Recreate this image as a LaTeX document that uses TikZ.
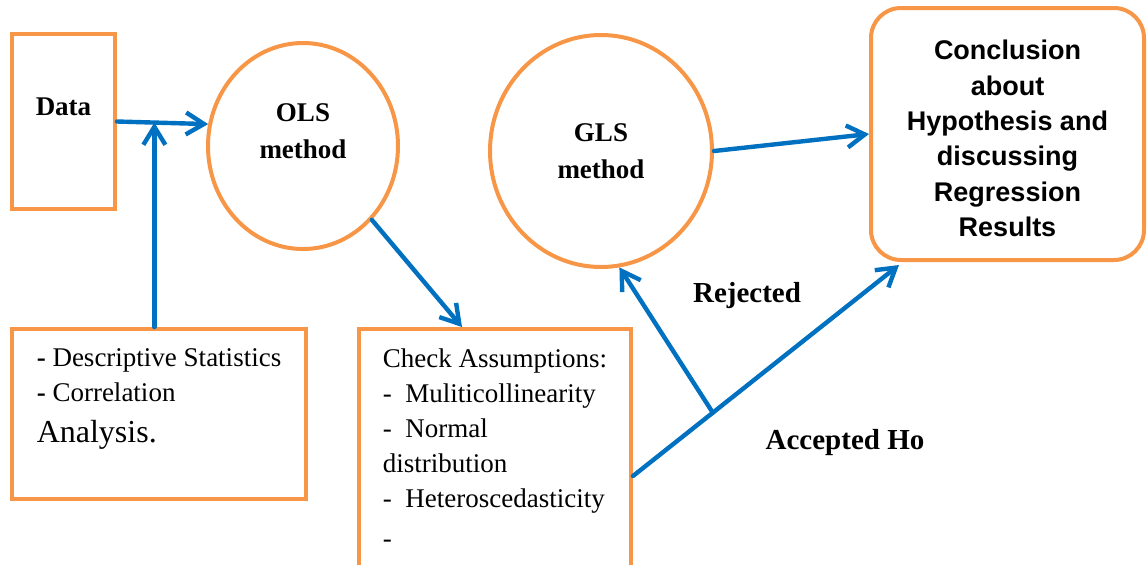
\documentclass[tikz,border=0pt]{standalone}
\usepackage{fontspec}
\setmainfont{Liberation Serif}
\newfontfamily\arialfont{Liberation Sans}
\usepackage{xcolor}
\usetikzlibrary{arrows.meta,calc,positioning,shapes.geometric}
\definecolor{boxorange}{HTML}{F79646}
\definecolor{flowblue}{HTML}{0070C0}

\begin{document}
\begin{tikzpicture}[
    x=0.5pt, y=-0.5pt,
    font=\fontsize{13.5}{17.5}\selectfont,
    framebox/.style={draw=boxorange, line width=2pt, align=left},
    method/.style={ellipse, draw=boxorange, line width=2pt, align=center, inner sep=0pt, font=\fontsize{13.5}{18.5}\selectfont\bfseries},
    result/.style={draw=boxorange, line width=2pt, rounded corners=15pt, align=center, minimum width=136.5pt, minimum height=126pt, font=\arialfont\bfseries\fontsize{13.5}{17.7}\selectfont},
    flow/.style={-{Straight Barb[length=9pt,width=11pt]}, draw=flowblue, line width=2.2pt, line cap=round},
    tag/.style={font=\fontsize{14.5}{17}\selectfont\bfseries}
]
    \clip (0,0) rectangle (1148,564);
    % boxes and methods
    \node[framebox, minimum width=51.5pt, minimum height=87.5pt, inner sep=0pt, text depth=15pt, font=\fontsize{13.5}{17.5}\selectfont\bfseries] (data) at (63.5,121.5) {Data};
    \node[method, minimum width=95pt, minimum height=103pt, text depth=14.5pt] (ols) at (303,146) {OLS\\method};
    \node[method, minimum width=111pt, minimum height=116pt] (gls) at (601,151) {GLS\\method};
    \node[result] (concl) at (1007.5,134) {\rule{0pt}{14.3pt}Conclusion\\about\\Hypothesis and\\discussing\\Regression\\Results};
    \node[framebox, anchor=north west, minimum width=147pt, inner xsep=10pt, inner ysep=10pt] (stats) at (10,327)
        {\textbf{-} Descriptive Statistics\\\textbf{-} Correlation\\[3pt]{\fontsize{16}{20}\selectfont Analysis.}\rule[-18pt]{0pt}{1pt}};
    \node[framebox, anchor=north west, minimum width=136pt, inner xsep=10pt, inner ysep=10pt] (check) at (357,327)
        {Check Assumptions:\\-\enspace Muliticollinearity\\-\enspace Normal\\distribution\\-\enspace Heteroscedasticity\\[2.5pt]-\rule[-60pt]{0pt}{1pt}};
    % connectors
    \coordinate (join) at ($(data.east)!0.41!(ols.167)$);
    \draw[flow] (data.east) -- (ols.167);
    \draw[flow] (stats.north -| join) -- (join);
    \draw[flow] (ols.-47) -- ([xshift=-16.5pt]check.north);
    \draw[flow] (gls.east) -- (concl.west);
    \coordinate (accfrom) at ([yshift=-74.5pt]check.north east);
    \coordinate (accto) at ([xshift=15pt,yshift=-1.5pt]concl.south west);
    \draw[flow] (accfrom) -- (accto);
    \coordinate (branch) at ($(accfrom)!0.3!(accto)$);
    \draw[flow] (branch) -- (gls.-81);
    % labels
    \node[tag] (rej) at (747,296) {Rejected};
    \node[tag] (acc) at (845,443) {Accepted Ho};
\end{tikzpicture}
\end{document}
